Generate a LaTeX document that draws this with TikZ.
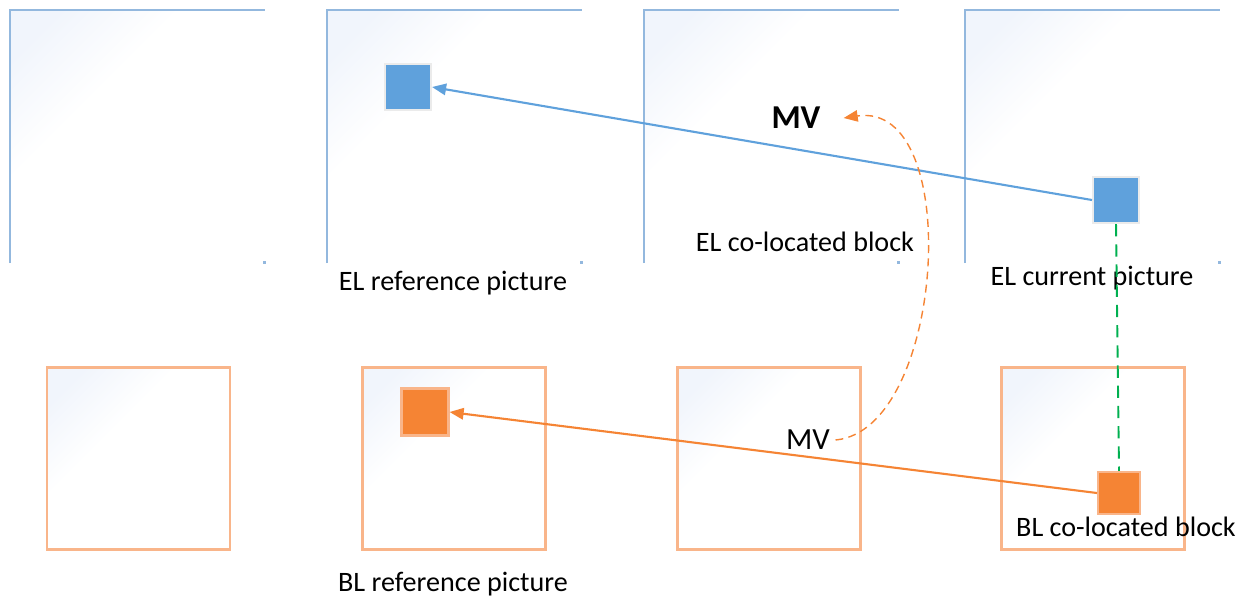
\documentclass[tikz,border=0pt]{standalone}
\usepackage{fontspec}
\setmainfont{Carlito}
\usetikzlibrary{arrows.meta}
\definecolor{elfill}{HTML}{5FA1DC}
\definecolor{elline}{HTML}{93B8DE}
\definecolor{blfill}{HTML}{F58434}
\definecolor{blline}{HTML}{F9B58A}
\definecolor{colgreen}{HTML}{00B050}
\definecolor{paleblue}{HTML}{F1F5FC}
\begin{document}
\begin{tikzpicture}
  [x=0.02cm,y=-0.02cm,
   lbl/.style={font=\fontsize{16}{19}\selectfont,inner sep=0pt},
   elblock/.style={fill=elfill,draw=black!8,line width=1.2pt,minimum size=0.92cm,inner sep=0pt},
   blblock/.style={fill=blfill,draw=blline,line width=1.2pt,minimum size=0.94cm,inner sep=0pt},
   corner/.style={top color=paleblue,bottom color=white,middle color=white,shading angle=45}]
  \useasboundingbox (0,0) rectangle (1246,599);

  % EL pictures (top row)
  \foreach \x in {10,327,644,965} {
    \shade[corner] (\x,10) rectangle ++(170,170);
    \draw[elline,line width=1.1pt] (\x,263) |- ++(255,-253);
    \fill[elline] (\x+253,261) rectangle ++(3,3);
  }
  % BL pictures (bottom row)
  \foreach \x in {47,362,677,1001} {
    \shade[corner] (\x,367) rectangle ++(130,130);
    \draw[blline,line width=1.7pt] (\x,367) rectangle ++(183,182);
  }

  \node[elblock] (elref) at (408,87) {};
  \node[elblock] (elcur) at (1116,200) {};
  \node[blblock] (blref) at (425,412) {};
  \node[blblock,minimum size=0.84cm] (blcur) at (1119,493) {};

  \node[lbl] (telref) at (453,283) {EL reference picture};
  \node[lbl] (telcol) at (805,242) {EL co-located block};
  \node[lbl] (telcur) at (1092,278) {EL current picture};
  \node[lbl] (tblref) at (453,584) {BL reference picture};
  \node[lbl] (tblcol) at (1126,527) {BL co-located block};
  \node[lbl,font=\fontsize{19}{22}\selectfont\bfseries] (mvel) at (796,118) {MV};
  \node[lbl,font=\fontsize{17.5}{20}\selectfont] (mvbl) at (808,440) {MV};

  \draw[elfill,line width=1.2pt,-{Triangle[length=8pt,width=6.5pt]}] (elcur.west) -- (elref.east);
  \draw[blfill,line width=1.2pt,-{Triangle[length=8pt,width=6.5pt]}] (blcur.west) -- (blref.east);
  \draw[colgreen,line width=1.1pt,dash pattern=on 7pt off 4.5pt] (elcur.south) -- (blcur.north);
  \draw[blfill,line width=0.8pt,dash pattern=on 4.5pt off 3pt,-{Triangle[length=8pt,width=6.5pt]}]
    ([xshift=3pt]mvbl.east) .. controls (945,430) and (965,100) .. ([xshift=13pt]mvel.east);
\end{tikzpicture}
\end{document}
